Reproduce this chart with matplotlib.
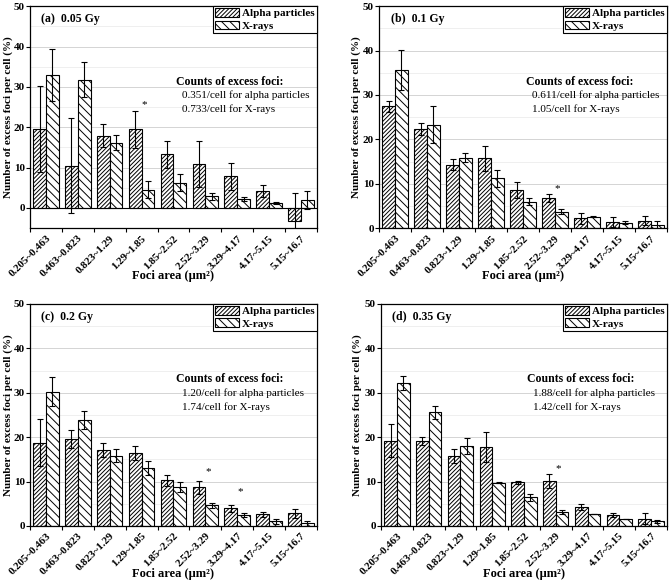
import numpy as np
import matplotlib.pyplot as plt
import matplotlib.transforms as mtransforms
from matplotlib.ticker import MultipleLocator, FixedLocator

plt.rcParams['font.family'] = ['Liberation Serif', 'DejaVu Serif']
plt.rcParams['hatch.linewidth'] = 0.7

bins = ['0.205~0.463', '0.463~0.823', '0.823~1.29', '1.29~1.85', '1.85~2.52',
        '2.52~3.29', '3.29~4.17', '4.17~5.15', '5.15~16.7']

# (a) 0.05 Gy
alpha_a = [19.5, 10.5, 17.9, 19.5, 13.3, 11.0, 7.8, 4.1, -3.3]
alpha_a_err = [10.6, 11.8, 2.9, 4.6, 3.4, 5.7, 3.3, 1.5, 7.0]
xray_a = [33.0, 31.8, 16.2, 4.5, 6.3, 2.9, 2.2, 1.3, 2.0]
xray_a_err = [6.4, 4.3, 1.8, 2.1, 2.1, 0.9, 0.5, 0.3, 2.3]

# (b) 0.1 Gy
alpha_b = [27.4, 22.3, 14.3, 15.7, 8.7, 6.8, 2.2, 1.3, 1.7]
alpha_b_err = [1.2, 1.4, 1.3, 2.8, 1.8, 1.0, 1.2, 1.1, 1.1]
xray_b = [35.6, 23.3, 15.9, 11.2, 6.0, 3.7, 2.6, 1.2, 0.6]
xray_b_err = [4.5, 4.1, 1.1, 2.0, 0.8, 0.6, 0.1, 0.3, 1.1]

# (c) 0.2 Gy
alpha_c = [18.7, 19.6, 17.1, 16.4, 10.3, 8.7, 4.0, 2.6, 2.8]
alpha_c_err = [5.3, 2.0, 1.5, 1.6, 1.2, 1.5, 0.8, 0.6, 1.1]
xray_c = [30.2, 23.9, 15.8, 13.0, 8.8, 4.6, 2.5, 1.0, 0.6]
xray_c_err = [3.3, 2.0, 1.5, 1.6, 1.2, 0.6, 0.5, 0.6, 0.6]

# (d) 0.35 Gy
alpha_d = [19.2, 19.1, 15.7, 17.8, 9.8, 10.1, 4.3, 2.5, 1.6]
alpha_d_err = [3.7, 0.9, 1.6, 3.4, 0.4, 1.6, 0.7, 0.5, 1.2]
xray_d = [32.1, 25.6, 18.0, 9.7, 6.5, 3.1, 2.7, 1.5, 1.0]
xray_d_err = [1.6, 1.5, 1.8, 0.1, 0.8, 0.5, 0.0, 0.0, 0.3]

labels = ['(a)  0.05 Gy', '(b)  0.1 Gy', '(c)  0.2 Gy', '(d)  0.35 Gy']
counts = [('0.351', '0.733'), ('0.611', '1.05'), ('1.20', '1.74'), ('1.88', '1.42')]
# asterisks: (group index, y value)
stars = [[(3, 25.5)], [(5, 8.9)], [(5, 12.2), (6, 7.8)], [(5, 13.0)]]

panels = [(alpha_a, alpha_a_err, xray_a, xray_a_err),
          (alpha_b, alpha_b_err, xray_b, xray_b_err),
          (alpha_c, alpha_c_err, xray_c, xray_c_err),
          (alpha_d, alpha_d_err, xray_d, xray_d_err)]

rects = [[0.0448, 0.610, 0.429, 0.3795],
         [0.5665, 0.610, 0.4305, 0.3795],
         [0.0448, 0.101, 0.429, 0.3795],
         [0.5695, 0.101, 0.4275, 0.3795]]
ylab_x = [-0.077, -0.080, -0.077, -0.084]

fig = plt.figure(figsize=(6.69, 5.85), dpi=100)
x = np.arange(len(bins))
w = 0.4
shift = mtransforms.ScaledTranslation(3 / 72, 0, fig.dpi_scale_trans)

for k, (al, ale, xr, xre) in enumerate(panels):
    ax = fig.add_axes(rects[k])
    ax.set_axisbelow(True)
    ax.yaxis.set_minor_locator(MultipleLocator(5))
    ax.grid(axis='y', which='major', color='#d4d4d4', lw=0.7)
    ax.grid(axis='y', which='minor', color='#ececec', lw=0.6)

    ax.bar(x - w / 2, al, w, facecolor='white', edgecolor='black', hatch='////////',
           lw=0.8, label='Alpha particles')
    ax.bar(x + w / 2, xr, w, facecolor='white', edgecolor='black', hatch='\\\\\\\\',
           lw=0.8, label='X-rays')
    ax.errorbar(x - w / 2, al, yerr=ale, fmt='none', ecolor='black', elinewidth=0.8,
                capsize=2.5, capthick=0.8)
    ax.errorbar(x + w / 2, xr, yerr=xre, fmt='none', ecolor='black', elinewidth=0.8,
                capsize=2.5, capthick=0.8)

    for gi, yv in stars[k]:
        ax.text(x[gi] + 0.08, yv, '*', ha='center', va='center', fontsize=8)

    ax.set_xlim(-0.5, len(bins) - 0.5)
    if k == 0:
        ax.set_ylim(-5, 50)
        ax.axhline(0, color='black', lw=0.8)
    else:
        ax.set_ylim(0, 50)
    ax.yaxis.set_major_locator(FixedLocator([0, 10, 20, 30, 40, 50]))
    ax.tick_params(axis='y', which='minor', length=0)
    ax.tick_params(axis='y', which='major', length=3, width=0.8, labelsize=8, pad=0.8)

    ax.set_xticks(x)
    ax.set_xticklabels(bins, rotation=45, ha='right', va='top', rotation_mode='anchor',
                       fontsize=7.8, fontweight='bold')
    for t in ax.get_xticklabels():
        t.set_transform(t.get_transform() + shift)
    ax.set_xticks(np.arange(len(bins) + 1) - 0.5, minor=True)
    ax.tick_params(axis='x', which='major', length=0, pad=4)
    ax.tick_params(axis='x', which='minor', length=3, width=0.8)
    for t in ax.get_yticklabels():
        t.set_fontweight('bold')

    for s in ax.spines.values():
        s.set_linewidth(0.9)

    ax.set_ylabel('Number of excess foci per cell (%)', fontsize=8, fontweight='bold',
                  va='center')
    ax.yaxis.set_label_coords(ylab_x[k], 0.5)
    ax.set_xlabel('Foci area (μm²)', fontsize=9, fontweight='bold', va='center')
    ax.xaxis.set_label_coords(0.5, -0.215)

    ax.text(0.04, 0.94, labels[k], transform=ax.transAxes, fontsize=8.5,
            fontweight='bold', va='center')
    ax.text(0.51, 0.66, 'Counts of excess foci:', transform=ax.transAxes,
            fontsize=8.5, fontweight='bold', va='center')
    ax.text(0.53, 0.60, counts[k][0] + '/cell for alpha particles',
            transform=ax.transAxes, fontsize=8, va='center')
    ax.text(0.53, 0.535, counts[k][1] + '/cell for X-rays',
            transform=ax.transAxes, fontsize=8, va='center')

    leg = ax.legend(loc='upper right', borderaxespad=0, fancybox=False,
                    edgecolor='black', framealpha=1, handlelength=2.2,
                    handleheight=0.8, handletextpad=0.25, borderpad=0.2,
                    labelspacing=0.2, prop={'weight': 'bold', 'size': 8})
    leg.get_frame().set_linewidth(0.8)

fig.savefig('out.png', dpi=100)
